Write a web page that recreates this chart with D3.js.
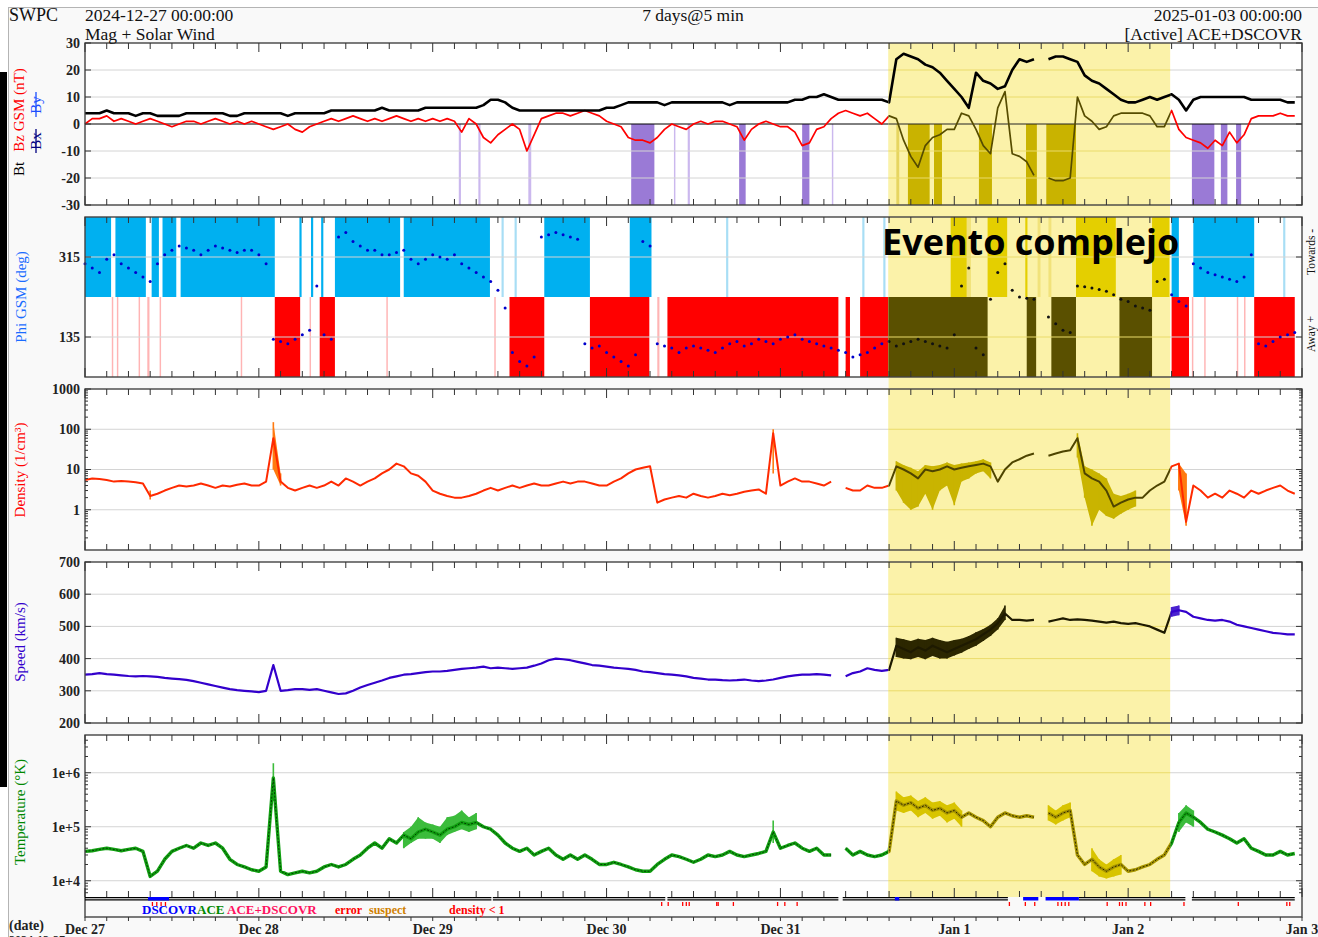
<!DOCTYPE html>
<html><head><meta charset="utf-8">
<script src="https://cdn.jsdelivr.net/npm/d3@7"></script>
<style>
html,body{margin:0;padding:0;background:#fff;}
svg{display:block;}
</style></head><body>
<svg id="chart" width="1318" height="937"></svg>
<script>
// ---- Hourly solar wind / IMF values, 2024-12-27 00:00 UTC to 2025-01-02 23:00 UTC ----
const btValues = [
  4,4,4,5,4,4,4,3,4,4,3,3,3,3,4,4,4,4,4,4,3,3,4,4,
  4,4,4,4,3,4,4,4,4,4,5,5,5,5,5,5,5,6,5,5,5,5,5,6,
  6,6,6,6,6,6,6,7,9,9,8,6,5,5,5,5,5,5,5,5,5,5,5,5,
  6,6,7,8,8,8,8,8,7,8,8,8,8,8,8,8,8,7,8,8,8,8,8,8,
  8,8,9,9,10,10,11,10,9,9,9,9,9,9,9,8,24,26,25,24,22,21,19,16,
  13,10,6,19,16,15,13,14,20,24,23,24,null,24,25,25,24,23,18,16,15,13,11,9,
  8,8,9,10,9,10,11,9,5,9,10,10,10,10,10,10,10,9,9,9,9,9,8,8
];
const bzValues = [
  0,2,2,3,1,2,1,0,1,2,1,0,-1,0,1,1,0,1,2,1,0,1,0,1,
  0,-1,-2,-1,0,-2,-3,-1,0,1,2,1,2,3,2,1,2,1,2,3,2,1,2,1,
  2,1,2,1,-3,2,0,-5,-7,-4,-2,0,-2,-10,-4,2,3,4,4,3,4,5,4,3,
  1,0,-1,-5,-6,-6,-7,-5,-2,0,-1,-2,0,1,0,1,1,0,-1,-6,-2,0,1,0,
  -1,-1,-3,-8,-7,-2,-1,2,4,5,4,3,4,2,0,3,2,-6,-12,-16,-8,-5,-4,-2,
  -2,4,3,-2,-8,-11,6,12,-11,-12,-14,-19,null,-20,-21,-21,-20,10,3,1,-2,-1,3,4,
  4,4,4,3,-1,-1,5,-2,-5,-6,-7,-9,-6,-8,-3,-7,-4,2,3,3,3,4,3,3
];
const phiValues = [
  300,290,280,310,320,300,290,280,270,260,300,320,330,340,335,330,320,330,340,335,330,325,330,330,
  320,300,130,125,120,130,140,150,250,140,130,360,370,350,340,330,330,320,320,325,330,310,300,310,
  320,315,310,320,300,290,280,270,260,240,200,100,80,70,90,360,365,370,365,360,355,120,110,115,
  100,90,80,70,95,350,340,120,115,110,100,110,115,110,105,100,110,120,125,115,120,130,125,120,
  130,135,140,130,125,120,115,110,105,100,90,95,100,110,120,125,115,120,125,130,125,120,115,110,
  140,250,290,110,95,220,280,300,240,225,222,220,null,180,165,150,145,250,248,245,242,238,230,220,
  215,205,200,195,260,265,230,215,205,300,290,280,275,270,265,260,270,320,120,115,125,135,140,145
];
const densityValues = [
  5.5,6,5.8,5.5,5,5.2,5,4.8,4.5,2.2,2.5,3,3.5,4,3.8,4,4.5,4,3.5,4,3.8,4.2,4.5,4,
  4,5,60,5,3.5,3,3.5,4,3.5,4,5,4,6,5,4,5,6,8,10,14,12,8,7,5,
  3,2.5,2.2,2,2,2.2,2.5,3,3.5,3,3.5,4,3.5,4,4.5,4,4,4.5,5,4.5,5,5,4.5,4,
  4,5,6,8,10,11,12,1.5,1.8,2,2.2,2,2.5,2.2,2,2.2,2.5,2.3,2.5,2.8,3,3.2,2.5,80,
  4,5,6,5,5,4.5,4,5,null,3.5,3,3,4,3.5,3.5,4,12,10,8,6,10,9,10,12,
  10,11,12,13,14,12,5,10,15,18,22,25,null,22,25,28,30,60,8,6,5,3,1.2,1.5,
  1.8,2,2,3,4,5,12,14,0.5,4,3,2,2.5,2,3,2.5,2,3,2.5,3,3.5,4,3,2.5
];
const speedValues = [
  350,352,355,352,350,348,346,345,346,345,343,340,338,336,334,330,325,320,315,310,305,302,300,298,
  296,300,380,300,302,305,305,303,305,300,295,290,292,300,310,318,325,332,340,345,350,352,355,358,
  360,360,362,365,368,370,372,375,370,372,370,368,370,372,378,385,395,400,398,395,390,385,380,378,
  375,372,370,368,365,360,358,355,352,350,348,345,340,338,335,335,333,332,333,335,332,330,332,335,
  340,345,348,350,350,352,350,348,null,345,355,360,370,365,362,365,440,430,420,435,425,440,430,420,
  430,440,450,460,475,490,510,540,520,520,518,520,null,515,520,525,520,522,520,518,515,512,515,510,
  508,510,505,500,490,480,545,550,545,530,525,520,518,520,515,505,500,495,490,485,480,478,475,475
];
const temperatureValues = [
  3.5e4,3.6e4,3.8e4,4e4,3.8e4,3.6e4,3.8e4,4e4,3.5e4,1.2e4,1.5e4,2.5e4,3.5e4,4e4,4.5e4,4e4,5e4,4.5e4,5e4,4e4,2.5e4,2e4,1.8e4,1.6e4,
  1.5e4,1.8e4,8e5,1.5e4,1.3e4,1.4e4,1.5e4,1.4e4,1.5e4,1.8e4,2e4,1.8e4,2e4,2.5e4,3e4,4e4,5e4,4e4,6e4,5e4,7e4,6e4,8e4,9e4,
  8e4,7e4,9e4,1e5,1.2e5,1.1e5,1.2e5,1e5,9e4,7e4,5e4,4e4,3.5e4,4e4,3e4,3.5e4,4e4,3e4,2.5e4,3e4,2.5e4,3e4,2.5e4,2e4,
  2e4,2.2e4,2e4,1.8e4,1.6e4,1.5e4,1.5e4,2e4,2.5e4,3e4,2.8e4,2.5e4,2.2e4,2.5e4,3e4,2.8e4,3e4,3.5e4,3e4,2.8e4,3e4,3.2e4,3.5e4,8e4,
  4e4,4.5e4,5e4,4e4,3.5e4,4e4,3e4,3e4,null,4e4,3e4,3.5e4,3e4,2.8e4,3e4,3.5e4,3e5,2.5e5,2.8e5,2.2e5,2.5e5,2e5,2.2e5,1.8e5,
  2e5,1.5e5,1.8e5,1.5e5,1.3e5,1e5,1.5e5,1.8e5,1.6e5,1.5e5,1.6e5,1.5e5,null,1.8e5,1.5e5,1.8e5,2e5,3e4,2e4,2.5e4,1.8e4,1.5e4,1.8e4,2e4,
  1.5e4,1.6e4,1.8e4,2e4,2.5e4,3e4,5e4,1.2e5,1.8e5,1.5e5,1.2e5,9e4,8e4,7e4,6e4,5e4,6e4,4e4,3.5e4,3e4,3e4,3.5e4,3e4,3.2e4
];

// Within-hour spread of the 5-minute samples: [hour, low, high]
const speedRange = [[112,405,465],[113,400,460],[114,398,455],[115,405,462],[116,398,458],[117,408,465],
  [118,400,458],[119,400,452],[120,410,458],[121,418,462],[122,430,470],[123,440,482],[124,455,492],
  [125,470,505],[126,490,525],[127,520,565],[150,530,560],[151,535,565]];
const densityRange = [[9,1.8,3],[26,10,150],[27,4,8],[95,8,100],[112,3,16],[113,1.5,13],[114,1,11],
  [115,1.2,9],[116,2.5,13],[117,1,12],[118,3,13],[119,4,15],[120,1.3,13],[121,5,14],[122,6,15],
  [123,8,16],[124,9,18],[125,6,15],[137,20,80],[138,2,12],[139,0.4,10],[140,1,8],[141,0.7,6],
  [142,0.6,2.5],[143,0.8,2.2],[144,1,2.5],[145,1.2,3],[151,3,14],[152,0.4,8]];
const temperatureRange = [[26,3e5,1.5e6],[44,4e4,8e4],[45,5e4,1e5],[46,6e4,1.5e5],[47,6e4,1.2e5],
  [48,6e4,1.1e5],[49,5e4,1e5],[50,7e4,1.5e5],[51,8e4,1.6e5],[52,9e4,2e5],[53,8e4,1.5e5],[54,9e4,1.8e5],
  [95,5e4,1.3e5],[112,2e5,4.5e5],[113,1.8e5,3.5e5],[114,2e5,3.8e5],[115,1.5e5,3e5],[116,1.8e5,3.5e5],
  [117,1.4e5,2.8e5],[118,1.6e5,3e5],[119,1.2e5,2.5e5],[120,1.4e5,2.8e5],[121,1e5,2e5],[133,1.3e5,2.5e5],
  [134,1.1e5,2e5],[135,1.3e5,2.5e5],[136,1.5e5,2.8e5],[139,1.5e4,4e4],[140,1.2e4,2.5e4],[141,1.1e4,2e4],
  [142,1.2e4,2.5e4],[143,1.3e4,3e4],[151,8e4,1.8e5],[152,1.2e5,2.5e5],[153,1e5,2e5]];

// Southward-field shading intervals (hours from start)
const southSpans = [[75.4,78.6],[90.3,91.2],[99,100],[113.6,116.6],[117.2,118.3],[123.4,125.2],
  [129.9,131.4],[132.7,136.8],[152.8,155.9],[156.8,157.7],[158.9,159.6]];
const southBrief = [[51.6,51.9],[54.3,54.6],[61.2,61.6],[81.3,81.5],[83.2,83.5],[103.1,103.3],[112,112.4]];

// IMF sector intervals (hours from start): towards (top half) and away (bottom half)
const towardsSpans = [[0,3.6],[4.2,8.4],[9.2,10.2],[10.7,12.6],[13.2,26.2],[29.6,29.9],[31.2,31.5],[32.6,32.9],
  [34.5,43.5],[44,55.9],[63.4,69.7],[75.2,78.2],[119.5,122],[124.6,127.3],[129.8,130.1],[136.8,142.3],
  [147.3,149.7],[150,151],[153,161.4]];
const towardsBrief = [[57.5,57.8],[59.3,59.6],[88.5,88.8],[107.3,107.6],[110.2,110.5],[121.7,122.3],
  [131.5,131.9],[133,133.4],[165.4,165.7]];
const awaySpans = [[26.2,29.7],[32.4,34.5],[58.6,63.4],[69.7,77.9],[80.4,104],[105,105.6],[107,124.6],
  [130,131.3],[133.4,136.8],[142.8,147.3],[150,152.4],[161.4,167]];
const awayBrief = [[3.7,3.9],[4.4,4.6],[7.4,7.6],[8.6,8.9],[10.3,10.5],[21.5,21.7],[31,31.2],[41.6,41.8],
  [56.5,56.7],[79,79.3],[152.8,153],[154.5,154.7],[159,159.2],[160,160.2]];

// Spacecraft source strip
const activeSegments = [[0,56.1],[56.3,80.1],[80.4,104],[104.6,127.4],[137.2,151.9],[152.8,167]];
const dscovrSegments = [[8.7,11.6],[111.8,112.4],[129.5,131.6],[132.6,137.2]];
const errorMarks = [9.3,9.9,10.5,11.1,79.6,80.5,82.5,83,83.4,87.2,87.4,89.5,95.6,96.6,98.3,127.6,129.8,131.1,
  134.3,134.8,135.3,135.8,141.1,142.8,143.2,143.7,146.3,147.1,151.7,159.2,165.9,166.3];

// Highlighted interval (hours)
const eventSpan = [110.9, 149.8];

// Axis tick values and labels
const magTicks = [-30,-20,-10,0,10,20,30];
const phiTicks = [135,315];
const densTicks = [1,10,100,1000];
const speedTicks = [200,300,400,500,600,700];
const tempTicks = [1e4,1e5,1e6];
const tempTickLabels = ["1e+4","1e+5","1e+6"];
const dayLabels = ["Dec 27","Dec 28","Dec 29","Dec 30","Dec 31","Jan 1","Jan 2","Jan 3"];

// ---------------------------------------------------------------------
const svg = d3.select('#chart');
const SERIF = '"Liberation Serif","Times New Roman",serif';
const t0 = Date.UTC(2024, 11, 27);
const at = h => new Date(t0 + h * 3600e3);
const x = d3.scaleUtc().domain([at(0), at(168)]).range([85, 1302]);
const X = h => x(at(h));
const L = 85, R = 1302;

const P = {
  mag:   {top: 43,  bottom: 205},
  phi:   {top: 217, bottom: 377},
  dens:  {top: 389, bottom: 550},
  speed: {top: 562, bottom: 723},
  temp:  {top: 735, bottom: 897}
};
const yMag = d3.scaleLinear().domain([-30, 30]).range([P.mag.bottom, P.mag.top]);
const yPhi = d3.scaleLinear().domain([45, 405]).range([P.phi.bottom, P.phi.top]);
const yDens = d3.scaleLog().domain([0.1, 1000]).range([P.dens.bottom, P.dens.top]);
const ySpeed = d3.scaleLinear().domain([200, 700]).range([P.speed.bottom, P.speed.top]);
const yTemp = d3.scaleLog().domain([5e3, 5e6]).range([P.temp.bottom, P.temp.top]);

const rows = arr => arr.map((v, h) => ({h, v}));
const lineFor = y => d3.line().defined(d => d.v != null).x(d => X(d.h)).y(d => y(d.v));
const rangeRows = list => {
  const m = new Map(list.map(d => [d[0], d]));
  return d3.range(168).map(h => m.has(h) ? {h, lo: m.get(h)[1], hi: m.get(h)[2]} : {h, lo: null, hi: null});
};
const areaFor = y => d3.area().defined(d => d.lo != null).x(d => X(d.h)).y0(d => y(d.lo)).y1(d => y(d.hi));

const normalPal = {
  bg: '#ffffff', grid: '#d4d4d4', zero: '#000', bt: '#000', bz: '#ff0000', south: '#9a7ad6', southBrief: '#cbb8ee',
  towards: '#00b0f0', towardsBrief: '#a8def5', away: '#ff0000', awayBrief: '#ffb4b4',
  phi: '#0000cc', dens: '#ff2a00', densRange: '#ff7a10', speed: '#3300cc', speedRange: '#4a22d0',
  temp: '#11a011', tempRange: '#3cbc3c', tempCore: '#003300'
};
const eventPal = {
  bg: '#fbf2a9', grid: '#eadb6a', zero: '#222', bt: '#000', bz: '#564c00', south: '#c9b300', southBrief: '#e6d560',
  towards: '#e4cf00', towardsBrief: '#f1e27a', away: '#5a5000', awayBrief: '#bfae40',
  phi: '#111', dens: '#4e4400', densRange: '#c9b400', speed: '#1e1a00', speedRange: '#2c2700',
  temp: '#a89600', tempRange: '#d8c400', tempCore: '#1e1a00'
};

function drawData(g, pal) {
  // panel backgrounds
  Object.values(P).forEach(p => {
    g.append('rect').attr('x', L).attr('y', p.top).attr('width', R - L).attr('height', p.bottom - p.top)
      .attr('fill', pal.bg);
  });
  const hgrid = (vals, y) => g.append('g').selectAll('line').data(vals).join('line')
      .attr('x1', L).attr('x2', R).attr('y1', d => y(d)).attr('y2', d => y(d))
      .attr('stroke', pal.grid).attr('stroke-width', 1);
  const spanRects = (spans, y0, y1, color) => g.append('g').selectAll('rect').data(spans).join('rect')
      .attr('x', d => X(d[0])).attr('width', d => Math.max(1, X(d[1]) - X(d[0])))
      .attr('y', y0).attr('height', y1 - y0).attr('fill', color);
  const spread = (list, y, color) => {
    g.append('path').datum(rangeRows(list)).attr('d', areaFor(y)).attr('fill', color);
    g.append('g').selectAll('line').data(list).join('line')
      .attr('x1', d => X(d[0])).attr('x2', d => X(d[0])).attr('y1', d => y(d[1])).attr('y2', d => y(d[2]))
      .attr('stroke', color).attr('stroke-width', 1.6);
  };

  // --- magnetic field panel
  spanRects(southSpans, yMag(0), yMag(-30), pal.south);
  spanRects(southBrief, yMag(0), yMag(-30), pal.southBrief);
  hgrid([-20, -10, 10, 20], yMag);
  g.append('line').attr('x1', L).attr('x2', R).attr('y1', yMag(0)).attr('y2', yMag(0))
    .attr('stroke', pal.zero).attr('stroke-width', 1);
  g.append('path').datum(rows(bzValues)).attr('d', lineFor(yMag))
    .attr('fill', 'none').attr('stroke', pal.bz).attr('stroke-width', 1.7).attr('stroke-linejoin', 'round');
  g.append('path').datum(rows(btValues)).attr('d', lineFor(yMag))
    .attr('fill', 'none').attr('stroke', pal.bt).attr('stroke-width', 2.6).attr('stroke-linejoin', 'round');

  // --- phi panel: sector shading
  const mid = yPhi(225);
  spanRects(towardsSpans, P.phi.top, mid, pal.towards);
  spanRects(towardsBrief, P.phi.top, mid, pal.towardsBrief);
  spanRects(awaySpans, mid, P.phi.bottom, pal.away);
  spanRects(awayBrief, mid, P.phi.bottom, pal.awayBrief);
  hgrid(phiTicks, yPhi);
  g.append('g').selectAll('circle').data(rows(phiValues).filter(d => d.v != null)).join('circle')
    .attr('cx', d => X(d.h)).attr('cy', d => yPhi(d.v)).attr('r', 1.5).attr('fill', pal.phi);

  // --- density
  hgrid([1, 10, 100], yDens);
  spread(densityRange, yDens, pal.densRange);
  g.append('path').datum(rows(densityValues)).attr('d', lineFor(yDens))
    .attr('fill', 'none').attr('stroke', pal.dens).attr('stroke-width', 2).attr('stroke-linejoin', 'round');

  // --- speed
  hgrid([300, 400, 500, 600], ySpeed);
  spread(speedRange, ySpeed, pal.speedRange);
  g.append('path').datum(rows(speedValues)).attr('d', lineFor(ySpeed))
    .attr('fill', 'none').attr('stroke', pal.speed).attr('stroke-width', 2.2).attr('stroke-linejoin', 'round');

  // --- temperature
  hgrid(tempTicks, yTemp);
  spread(temperatureRange, yTemp, pal.tempRange);
  g.append('path').datum(rows(temperatureValues)).attr('d', lineFor(yTemp))
    .attr('fill', 'none').attr('stroke', pal.temp).attr('stroke-width', 3.4).attr('stroke-linejoin', 'round');
  g.append('path').datum(rows(temperatureValues)).attr('d', lineFor(yTemp))
    .attr('fill', 'none').attr('stroke', pal.tempCore).attr('stroke-width', 0.9).attr('stroke-dasharray', '2 1.5');
}

// figure background and frame
svg.append('rect').attr('width', 1318).attr('height', 937).attr('fill', '#fff');
svg.append('rect').attr('x', 8.5).attr('y', 7.5).attr('width', 1318).attr('height', 940)
  .attr('fill', '#f9f9f9').attr('stroke', '#b4b4b4');
svg.append('rect').attr('x', 0).attr('y', 72).attr('width', 7).attr('height', 715).attr('fill', '#000');

// data in normal colours
drawData(svg.append('g'), normalPal);

// highlighted interval redrawn with the highlight palette
const ex0 = X(eventSpan[0]), ex1 = X(eventSpan[1]);
svg.append('clipPath').attr('id', 'evClip').append('rect')
  .attr('x', ex0).attr('y', P.mag.top).attr('width', ex1 - ex0).attr('height', P.temp.bottom - P.mag.top);
const ev = svg.append('g').attr('clip-path', 'url(#evClip)');
ev.append('rect').attr('x', ex0).attr('y', P.mag.top).attr('width', ex1 - ex0)
  .attr('height', P.temp.bottom - P.mag.top).attr('fill', eventPal.bg);
drawData(ev, eventPal);

// ---- frames, ticks, tick labels
const axes = svg.append('g');
const hourTicks = d3.range(0, 169, 3);
Object.entries(P).forEach(([k, p]) => {
  const bottom = k === 'temp' ? 917 : p.bottom;
  axes.append('rect').attr('x', L).attr('y', p.top).attr('width', R - L).attr('height', bottom - p.top)
    .attr('fill', 'none').attr('stroke', '#444').attr('stroke-width', 1.4);
  axes.append('g').selectAll('line').data(hourTicks).join('line')
    .attr('x1', d => X(d)).attr('x2', d => X(d))
    .attr('y1', p.top).attr('y2', d => p.top + (d % 24 === 0 ? 9 : 6))
    .attr('stroke', '#333').attr('stroke-width', 1);
  axes.append('g').selectAll('line').data(hourTicks).join('line')
    .attr('x1', d => X(d)).attr('x2', d => X(d))
    .attr('y1', p.bottom).attr('y2', d => p.bottom - (d % 24 === 0 ? 9 : 6))
    .attr('stroke', '#333').attr('stroke-width', 1);
});
// ticks under the lowest frame
axes.append('g').selectAll('line').data(hourTicks).join('line')
  .attr('x1', d => X(d)).attr('x2', d => X(d)).attr('y1', 917).attr('y2', 921)
  .attr('stroke', '#333').attr('stroke-width', 1);

function yAxis(ticks, y, labels, minor) {
  const g = axes.append('g');
  g.selectAll('line.maj').data(ticks).join('line')
    .attr('x1', L).attr('x2', L + 6).attr('y1', d => y(d)).attr('y2', d => y(d)).attr('stroke', '#333');
  g.selectAll('line.majr').data(ticks).join('line')
    .attr('x1', R - 6).attr('x2', R).attr('y1', d => y(d)).attr('y2', d => y(d)).attr('stroke', '#333');
  if (minor) {
    g.selectAll('line.min').data(minor).join('line')
      .attr('x1', L).attr('x2', L + 3).attr('y1', d => y(d)).attr('y2', d => y(d)).attr('stroke', '#333');
    g.selectAll('line.minr').data(minor).join('line')
      .attr('x1', R - 3).attr('x2', R).attr('y1', d => y(d)).attr('y2', d => y(d)).attr('stroke', '#333');
  }
  g.selectAll('text').data(ticks).join('text')
    .attr('x', 80).attr('y', d => y(d)).attr('dy', '0.35em').attr('text-anchor', 'end')
    .attr('font-family', SERIF).attr('font-weight', 'bold').attr('font-size', 14).attr('fill', '#222')
    .text((d, i) => labels ? labels[i] : d);
}
const logMinor = (lo, hi) => {
  const out = [];
  for (let e = Math.floor(Math.log10(lo)); e <= Math.ceil(Math.log10(hi)); e++)
    for (let k = 2; k <= 9; k++) { const v = k * Math.pow(10, e); if (v > lo && v < hi) out.push(v); }
  return out;
};
yAxis(magTicks, yMag);
yAxis(phiTicks, yPhi);
yAxis(densTicks, yDens, null, logMinor(0.1, 1000));
yAxis(speedTicks, ySpeed);
yAxis(tempTicks, yTemp, tempTickLabels, logMinor(5e3, 5e6));

// ---- source strip and legend
const strip = svg.append('g');
[897.6, 899.8].forEach(yy => {
  strip.append('g').selectAll('line').data(activeSegments).join('line')
    .attr('x1', d => X(d[0])).attr('x2', d => X(d[1])).attr('y1', yy).attr('y2', yy)
    .attr('stroke', '#000').attr('stroke-width', 1.2);
});
strip.append('g').selectAll('rect').data(dscovrSegments).join('rect')
  .attr('x', d => X(d[0])).attr('width', d => X(d[1]) - X(d[0])).attr('y', 897).attr('height', 3.5)
  .attr('fill', '#0000ff');
strip.append('g').selectAll('rect').data(errorMarks).join('rect')
  .attr('x', d => X(d) - 0.6).attr('width', 1.3).attr('y', 902).attr('height', 4).attr('fill', '#ff0000');

const legendItems = [
  {text: 'DSCOVR', x: 142, color: '#0000ff', size: 13},
  {text: 'ACE', x: 197, color: '#008800', size: 13},
  {text: 'ACE+DSCOVR', x: 227, color: '#ff1060', size: 13},
  {text: 'error', x: 335, color: '#ff0000', size: 12},
  {text: 'suspect', x: 369, color: '#d08000', size: 12},
  {text: 'density < 1', x: 449, color: '#ff0000', size: 12}
];
svg.append('g').selectAll('text').data(legendItems).join('text')
  .attr('x', d => d.x).attr('y', 914).attr('font-family', SERIF).attr('font-weight', 'bold')
  .attr('font-size', d => d.size).attr('fill', d => d.color).text(d => d.text);

// ---- date labels
svg.append('g').selectAll('text').data(dayLabels).join('text')
  .attr('x', (d, i) => X(i * 24)).attr('y', 934).attr('text-anchor', 'middle')
  .attr('font-family', SERIF).attr('font-weight', 'bold').attr('font-size', 14).attr('fill', '#222')
  .text(d => d);
svg.append('text').attr('x', 9).attr('y', 930).attr('font-family', SERIF).attr('font-weight', 'bold')
  .attr('font-size', 14).attr('fill', '#222').text('(date)');
svg.append('text').attr('x', 9).attr('y', 944).attr('font-family', SERIF).attr('font-weight', 'bold')
  .attr('font-size', 12).attr('fill', '#222').text('2024-12-27');

// ---- header
const hdr = (txt, xx, yy, anchor, size) => svg.append('text').attr('x', xx).attr('y', yy)
  .attr('text-anchor', anchor).attr('font-family', SERIF).attr('font-size', size).attr('fill', '#111').text(txt);
hdr('SWPC', 9, 21, 'start', 18);
hdr('2024-12-27 00:00:00', 85, 21, 'start', 17.5);
hdr('Mag + Solar Wind', 85, 40, 'start', 17.5);
hdr('7 days@5 min', 693, 21, 'middle', 17.5);
hdr('2025-01-03 00:00:00', 1302, 21, 'end', 17.5);
hdr('[Active] ACE+DSCOVR', 1302, 40, 'end', 17.5);

// ---- axis titles (rotated)
const vtext = (txt, cx, cy, color, size) => svg.append('text')
  .attr('transform', `translate(${cx},${cy}) rotate(-90)`).attr('text-anchor', 'middle')
  .attr('dominant-baseline', 'central').attr('font-family', SERIF).attr('font-size', size)
  .attr('fill', color).text(txt);
vtext('Bz GSM (nT)', 19, 110, '#ff0000', 15);
vtext('Bt', 19, 169, '#000', 15);
vtext('Bx', 36, 141, '#000080', 15);
vtext('By', 36, 105, '#1a4dff', 15);
svg.append('line').attr('x1', 36).attr('x2', 36).attr('y1', 129).attr('y2', 153).attr('stroke', '#000080').attr('stroke-width', 1.3);
svg.append('line').attr('x1', 36).attr('x2', 36).attr('y1', 92).attr('y2', 117).attr('stroke', '#1a4dff').attr('stroke-width', 1.3);
vtext('Phi GSM (deg)', 21, 297, '#1a6cff', 15);
vtext('Density (1/cm\u00b3)', 20, 470, '#ff0000', 15);
vtext('Speed (km/s)', 20, 642, '#3300cc', 15);
vtext('Temperature (\u00b0K)', 20, 812, '#008800', 15);
vtext('Towards -', 1311, 252, '#111', 11.5);
vtext('Away +', 1311, 334, '#111', 11.5);

// ---- highlighted interval label
svg.append('text').attr('x', 882).attr('y', 255).attr('font-family', '"Open Sans", "Noto Sans", sans-serif')
  .attr('font-weight', 700).attr('font-size', 36).attr('fill', '#000').text('Evento complejo');
</script>
</body></html>
